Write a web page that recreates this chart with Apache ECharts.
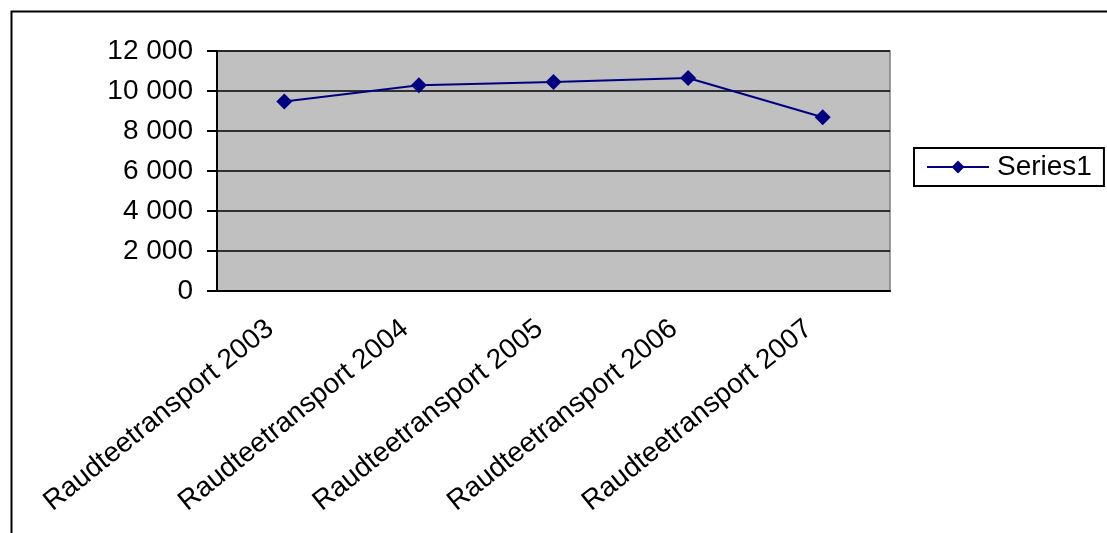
<!DOCTYPE html>
<html><head><meta charset="utf-8">
<script src="https://cdn.jsdelivr.net/npm/echarts@6/dist/echarts.min.js"></script>
<style>html,body{margin:0;padding:0;background:#fff}#c{width:1107px;height:533px}</style>
</head><body><div id="c"></div>
<script>
const categories = ['Raudteetransport 2003','Raudteetransport 2004','Raudteetransport 2005','Raudteetransport 2006','Raudteetransport 2007'];
const series1 = [9470, 10290, 10450, 10650, 8690];
const seriesName = 'Series1';
const yMin = 0, yMax = 12000, yInterval = 2000;

const FONT = '"Liberation Sans", Arial, sans-serif';
const fmt = v => String(v).replace(/\B(?=(\d{3})+(?!\d))/g, ' ');
const chart = echarts.init(document.getElementById('c'), null, {renderer:'canvas'});
chart.setOption({
  animation: false,
  backgroundColor: '#fff',
  textStyle: {fontFamily: FONT},
  graphic: [{type:'rect', left: 9, top: 9, shape:{x:0,y:0,width:1200,height:600}, style:{fill:'none', stroke:'#000', lineWidth:2}, silent:true}],
  grid: {left: 217, top: 51, width: 673, height: 240, show: true, backgroundColor: '#C0C0C0', borderColor: '#808080', borderWidth: 1.5},
  legend: {
    left: 914, top: 148, orient: 'vertical',
    data: [seriesName],
    borderColor: '#000', borderWidth: 2, padding: [5, 12, 5, 12],
    itemWidth: 62, itemHeight: 16, itemGap: 0,
    lineStyle: {width: 2},
    textStyle: {fontSize: 28, color: '#000', fontFamily: FONT, padding: [0,0,0,3]}
  },
  xAxis: {
    type: 'category', data: categories, boundaryGap: true,
    axisLine: {lineStyle: {color: '#000', width: 2}},
    axisTick: {length: 8, lineStyle: {color: '#000', width: 2}},
    axisLabel: {rotate: 39, fontSize: 28, color: '#000', margin: 23, padding: [0, 18, 0, 0], fontFamily: FONT, interval: 0}
  },
  yAxis: {
    type: 'value', min: yMin, max: yMax, interval: yInterval,
    axisLine: {show: true, lineStyle: {color: '#000', width: 2}},
    axisTick: {show: true, length: 10, lineStyle: {color: '#000', width: 2}},
    splitLine: {lineStyle: {color: '#000', width: 1.5}},
    axisLabel: {fontSize: 28, color: '#000', margin: 24, fontFamily: FONT, formatter: fmt}
  },
  series: [{
    name: seriesName, type: 'line', data: series1,
    symbol: 'diamond', symbolSize: 16,
    lineStyle: {color: '#000080', width: 2},
    itemStyle: {color: '#000080'}
  }]
});
</script></body></html>
